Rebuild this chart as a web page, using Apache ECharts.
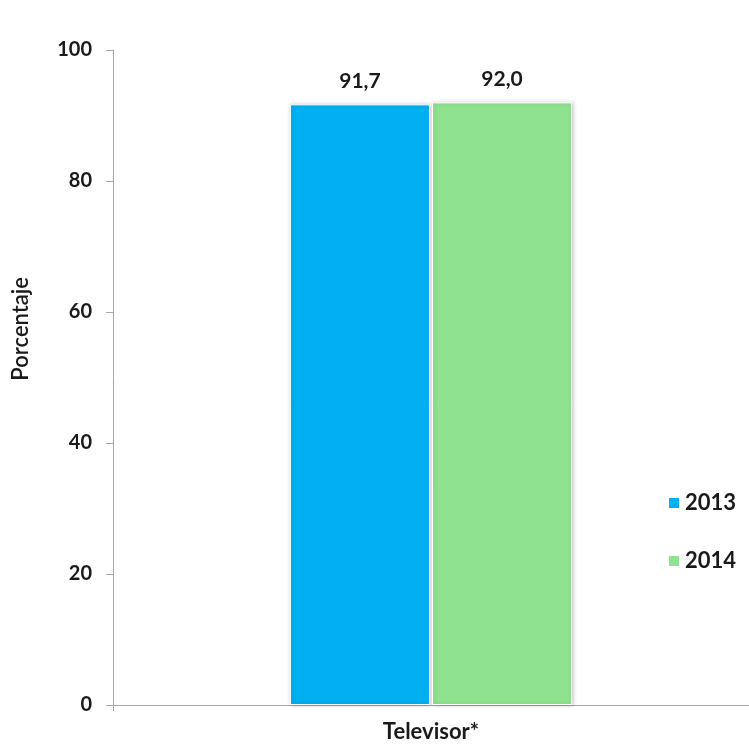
<!DOCTYPE html>
<html>
<head>
<meta charset="utf-8">
<script src="https://cdn.jsdelivr.net/npm/echarts@6/dist/echarts.min.js"></script>
<style>html,body{margin:0;padding:0;background:#fff}#c{width:749px;height:744px}</style>
</head>
<body>
<div id="c"></div>
<script>
const categories = ['Televisor*'];
const seriesNames = ['2013', '2014'];
const values2013 = [91.7];
const values2014 = [92.0];
const yTicks = [0, 20, 40, 60, 80, 100];

const FONT = 'Lato, "Open Sans", sans-serif';
const chart = echarts.init(document.getElementById('c'));
const labelCfg = {
  show: true, position: 'top', distance: 13,
  color: '#1a1a1a', fontFamily: FONT, fontWeight: 'bold', fontSize: 21,
  formatter: p => p.value.toFixed(1).replace('.', ',')
};
chart.setOption({
  animation: false,
  backgroundColor: '#fff',
  grid: { left: 113, top: 50, width: 638, bottom: 39, containLabel: false },
  legend: {
    orient: 'vertical', left: 662, top: 487, itemGap: 36,
    itemWidth: 12, itemHeight: 12, icon: 'rect',
    textStyle: { fontFamily: FONT, fontWeight: 'bold', fontSize: 22, color: '#1a1a1a' },
    data: seriesNames
  },
  xAxis: {
    type: 'category', data: categories,
    axisLine: { lineStyle: { color: '#a6a6a6' } },
    axisTick: { show: true, length: 6, lineStyle: { color: '#a6a6a6' }, alignWithLabel: false },
    axisLabel: { margin: 16, fontFamily: FONT, fontWeight: 'bold', fontSize: 22, color: '#1a1a1a' }
  },
  yAxis: {
    type: 'value', min: yTicks[0], max: yTicks[yTicks.length - 1], interval: 20,
    axisLine: { show: true, lineStyle: { color: '#a6a6a6' } },
    axisTick: { show: true, length: 7, lineStyle: { color: '#a6a6a6' } },
    splitLine: { show: false },
    axisLabel: { margin: 21, fontFamily: FONT, fontWeight: 'bold', fontSize: 20, color: '#1a1a1a' }
  },
  graphic: [{
    type: 'text', left: 10, top: 277, rotation: Math.PI / 2,
    style: { text: 'Porcentaje', fontFamily: FONT, fontSize: 22, fontWeight: 600, fill: '#1a1a1a', letterSpacing: 0.6 }
  }],
  series: [
    { name: seriesNames[0], type: 'bar', data: values2013, barWidth: 140, barGap: '1.5%',
      itemStyle: { color: '#00B0F0', borderColor: '#ffffff', borderWidth: 1,
        shadowColor: 'rgba(0,0,0,0.2)', shadowBlur: 4, shadowOffsetX: 1 },
      label: labelCfg },
    { name: seriesNames[1], type: 'bar', data: values2014, barWidth: 140,
      itemStyle: { color: '#8FE28E', borderColor: '#ffffff', borderWidth: 1,
        shadowColor: 'rgba(0,0,0,0.2)', shadowBlur: 4, shadowOffsetX: 1 },
      label: labelCfg }
  ]
});
</script>
</body>
</html>
